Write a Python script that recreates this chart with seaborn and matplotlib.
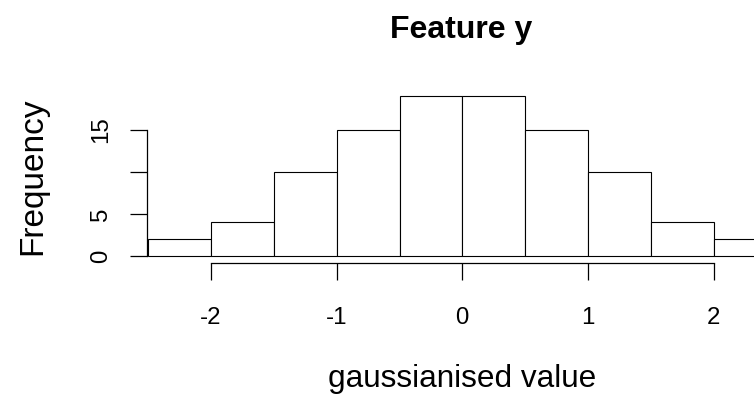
import matplotlib
matplotlib.use("Agg")
import matplotlib.pyplot as plt
import seaborn as sns
import numpy as np

# Data
bin_edges = [-2.5, -2.0, -1.5, -1.0, -0.5, 0.0, 0.5, 1.0, 1.5, 2.0, 2.5]
counts = [2, 4, 10, 15, 19, 19, 15, 10, 4, 2]
x_ticks = [-2, -1, 0, 1, 2]
x_tick_labels = ["-2", "-1", "0", "1", "2"]
y_ticks = [0, 5, 10, 15]
y_tick_labels = ["0", "5", "", "15"]
title = "Feature y"
x_label = "gaussianised value"
y_label = "Frequency"

sns.set_style("white")
plt.rcParams['font.family'] = ['Liberation Sans', 'DejaVu Sans']

W, H = 754, 396
fig = plt.figure(figsize=(W / 100, H / 100), dpi=100)

# axes geometry in pixels
x_left_px = 148.3           # position of x = -2.5
px_per_unit = 125.6
x_right_val = bin_edges[0] + (W - x_left_px) / px_per_unit
y0_px, ytop_px = 256.0, 256.0 - 20 * 8.4
ax = fig.add_axes([x_left_px / W, (H - y0_px) / H, 1 - x_left_px / W, (y0_px - ytop_px) / H])

centers = [(a + b) / 2 for a, b in zip(bin_edges[:-1], bin_edges[1:])]
sns.histplot(x=centers, weights=counts, bins=bin_edges, ax=ax,
             color="white", edgecolor="black", linewidth=0.8, alpha=1.0)
for p in ax.patches:
    p.set_clip_on(False)

ax.set_xlim(bin_edges[0], x_right_val)
ax.set_ylim(0, 20)

for s in ["top", "right"]:
    ax.spines[s].set_visible(False)
ax.spines["left"].set_position(("outward", 1.2))
ax.spines["left"].set_bounds(0, 15)
ax.spines["bottom"].set_position(("outward", 5))
ax.spines["bottom"].set_bounds(-2, 2)
for s in ["left", "bottom"]:
    ax.spines[s].set_linewidth(0.9)
    ax.spines[s].set_color("black")

ax.set_xticks(x_ticks)
ax.set_xticklabels(x_tick_labels)
ax.set_yticks(y_ticks)
ax.set_yticklabels(y_tick_labels, rotation=90, va="center")
ax.tick_params(axis="both", direction="out", length=12, width=0.9, color="black",
               labelsize=17.3, labelcolor="black", bottom=True, left=True)
ax.tick_params(axis="x", pad=19.5)
ax.tick_params(axis="y", pad=13)
ax.set_xlabel("")
ax.set_ylabel("")

fig.text(461 / W, (H - 38) / H, title, ha="center", va="baseline",
         fontsize=23, fontweight="bold", color="black")
fig.text(462.5 / W, (H - 379) / H, x_label, ha="center", va="center",
         fontsize=22.7, color="black")
fig.text(33 / W, (H - 176) / H, y_label, ha="center", va="center",
         rotation=90, fontsize=24, color="black")

fig.savefig("out.png", dpi=100)
